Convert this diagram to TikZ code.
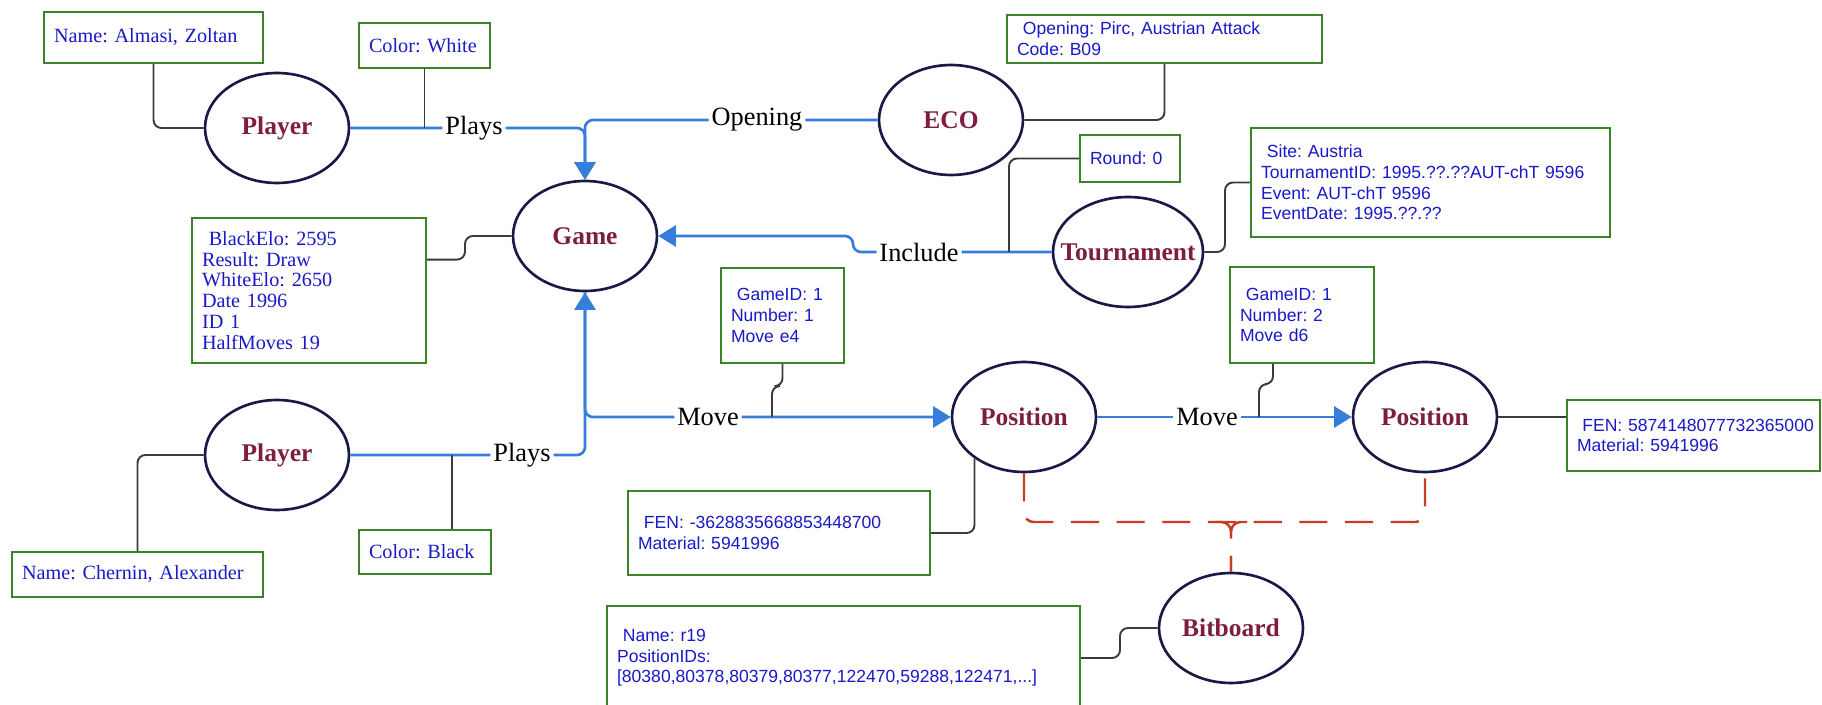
\documentclass[tikz,border=0pt]{standalone}
\usepackage{fontspec}
\setmainfont{Liberation Serif}
\newfontfamily\arialfont{Liberation Sans}
\usetikzlibrary{shapes.geometric,arrows.meta,calc}
\definecolor{entBorder}{RGB}{25,25,70}
\definecolor{entText}{RGB}{125,30,65}
\definecolor{boxGreen}{RGB}{60,130,40}
\definecolor{attrBlue}{RGB}{25,25,200}
\definecolor{relBlue}{RGB}{55,125,220}
\definecolor{attrGray}{RGB}{60,60,60}
\definecolor{bitRed}{RGB}{200,60,35}
\frenchspacing

\begin{document}
\begin{tikzpicture}[%
    x=0.02cm, y=-0.02cm,
    entity/.style={
        ellipse, draw=entBorder, line width=1.5pt,
        minimum width=2.88cm, minimum height=2.2cm, inner sep=0pt,
        text=entText, font=\fontsize{14.5}{16}\selectfont\bfseries,
    },
    attrbox/.style={draw=boxGreen, line width=1.3pt, fill=white,
        align=left, inner xsep=0.2cm, text=attrBlue},
    sansbox/.style={attrbox, font=\arialfont\fontsize{10}{11.7}\selectfont},
    serifbox/.style={attrbox, font=\fontsize{11.5}{11.9}\selectfont},
    rellabel/.style={fill=white, inner sep=1.5pt, font=\fontsize{15}{17}\selectfont},
    rel/.style={draw=relBlue, line width=1.5pt, rounded corners=4.5pt,
        -{Triangle[length=10pt,width=12pt]}},
    attr/.style={draw=attrGray, line width=1.1pt, rounded corners=4.5pt},
    bitlink/.style={draw=bitRed, line width=1.4pt,
        dash pattern=on 16pt off 10pt, rounded corners=5.5pt},
]
\clip (0,0) rectangle (1822,705);

% place entities
\node[entity] (pl1) at (277,128) {Player};
\node[entity] (game) at (585,236) {Game};
\node[entity] (eco) at (951,120) {ECO};
\node[entity, minimum width=3cm] (tour) at (1128,252) {\makebox[0pt]{Tournament}};
\node[entity] (pos1) at (1024,417) {Position};
\node[entity] (pos2) at (1425,417) {Position};
\node[entity] (pl2) at (277,455) {Player};
\node[entity] (bit) at (1231,628) {Bitboard};

% place attribute boxes
\node[serifbox, minimum width=4.38cm, minimum height=1.02cm, text width=3.98cm]
    (nameA) at (153.5,37.5) {Name: Almasi, Zoltan};
\node[serifbox, minimum width=2.62cm, minimum height=0.9cm, text width=2.22cm]
    (colorW) at (424.5,45.5) {Color:~White};
\node[sansbox, minimum width=6.3cm, minimum height=0.96cm, text width=5.9cm]
    (openB) at (1164.5,39) {\ Opening: Pirc, Austrian Attack\\Code: B09};
\node[sansbox, minimum width=2cm, minimum height=0.94cm, text width=1.6cm]
    (roundB) at (1130,158.5) {Round:~0};
\node[sansbox, minimum width=7.18cm, minimum height=2.18cm, text width=6.78cm]
    (siteB) at (1430.5,182.5) {\ Site: Austria\\TournamentID: 1995.??.??AUT-chT 9596\\Event: AUT-chT 9596\\EventDate: 1995.??.??};
\node[serifbox, minimum width=4.68cm, minimum height=2.9cm, text width=4.28cm]
    (eloB) at (309,290.5) {\ BlackElo: 2595\\Result: Draw\\WhiteElo: 2650\\Date 1996\\ID 1\\HalfMoves 19};
\node[sansbox, minimum width=2.46cm, minimum height=1.9cm, text width=2.06cm]
    (mv1B) at (782.5,315.5) {\ GameID: 1\\Number: 1\\Move e4};
\node[sansbox, minimum width=2.88cm, minimum height=1.92cm, text width=2.48cm]
    (mv2B) at (1302,315) {\ GameID: 1\\Number: 2\\Move d6};
\node[sansbox, minimum width=5.06cm, minimum height=1.42cm, text width=4.66cm]
    (fen2B) at (1693.5,435.5) {\hspace*{3pt}FEN:~5874148077732365000\\Material: 5941996};
\node[sansbox, minimum width=6.04cm, minimum height=1.68cm, text width=5.64cm]
    (fen1B) at (779,533) {\ FEN: -3628835668853448700\\Material: 5941996};
\node[sansbox, minimum width=9.46cm, minimum height=2.08cm, text width=9.06cm]
    (bitB) at (843.5,658) {\ Name: r19\\PositionIDs:\\{}[80380,80378,80379,80377,122470,59288,122471,...]};
\node[serifbox, minimum width=2.64cm, minimum height=0.88cm, text width=2.24cm]
    (colorB) at (425,552) {Color:~Black};
\node[serifbox, minimum width=5.02cm, minimum height=0.9cm, text width=4.62cm]
    (nameC) at (137.5,574.5) {Name: Chernin, Alexander};

% place relation labels
\node[rellabel] (plays1) at (474,128) {Plays};
\node[rellabel] (opening) at (757,120) {Opening};
\node[rellabel] (include) at (919,252) {Include};
\node[rellabel] (move1) at (708,417) {Move};
\node[rellabel] (move2) at (1207,417) {Move};
\node[rellabel] (plays2) at (522,455) {Plays};

% junctions on the relation lines
\coordinate (incJ) at (1009,252);
\coordinate (mv1J) at (772,417);
\coordinate (mv2J) at (1259,417);
\coordinate (cbJ) at (452,455);
\coordinate (bbJ) at (1231,522);

% draw relations
\draw[rel] (pl1) -- (plays1) -| (game);
\draw[rel] (eco) -- (opening) -| (game);
\draw[rel] (pl2) -- (plays2) -| (game);
\draw[rel] (game) |- (move1) -- (pos1);
\draw[rel] (tour) -- (include) -- ++(-66,0) |- (game);
\draw[rel] (pos1) -- (move2) -- (pos2);

% draw attribute links
\draw[attr] (nameA) |- (pl1);
\draw[attr] (colorW) -- (colorW |- pl1);
\draw[attr] (openB) |- (eco);
\draw[attr] (roundB) -| (incJ);
\draw[attr] (tour) -- ++(97,0) |- (siteB);
\draw[attr] (game) -- ++(-120,0) |- ($(eloB.north east)!0.29!(eloB.south east)$);
\draw[attr] (mv1B.south) -- ++(0,22) -| (mv1J);
\draw[attr] ([xshift=-0.58cm]mv2B.south) -- ++(0,20) -| (mv2J);
\draw[attr] (fen1B) -| (pos1.220);
\draw[attr] (pos2) -- (pos2 -| fen2B.west);
\draw[attr] (bit) -- ++(-111,0) |- (bitB);
\draw[attr] (colorB.north -| cbJ) -- (cbJ);
\draw[attr] (nameC) |- (pl2);

% draw bitboard link
\draw[bitlink] (pos1) |- (bbJ) -| (pos2);
\draw[bitlink] ($(bbJ)+(-16,0)$) -| (bit);
\draw[bitlink] ($(bbJ)+(16,0)$) -| (bit);

\end{tikzpicture}
\end{document}
